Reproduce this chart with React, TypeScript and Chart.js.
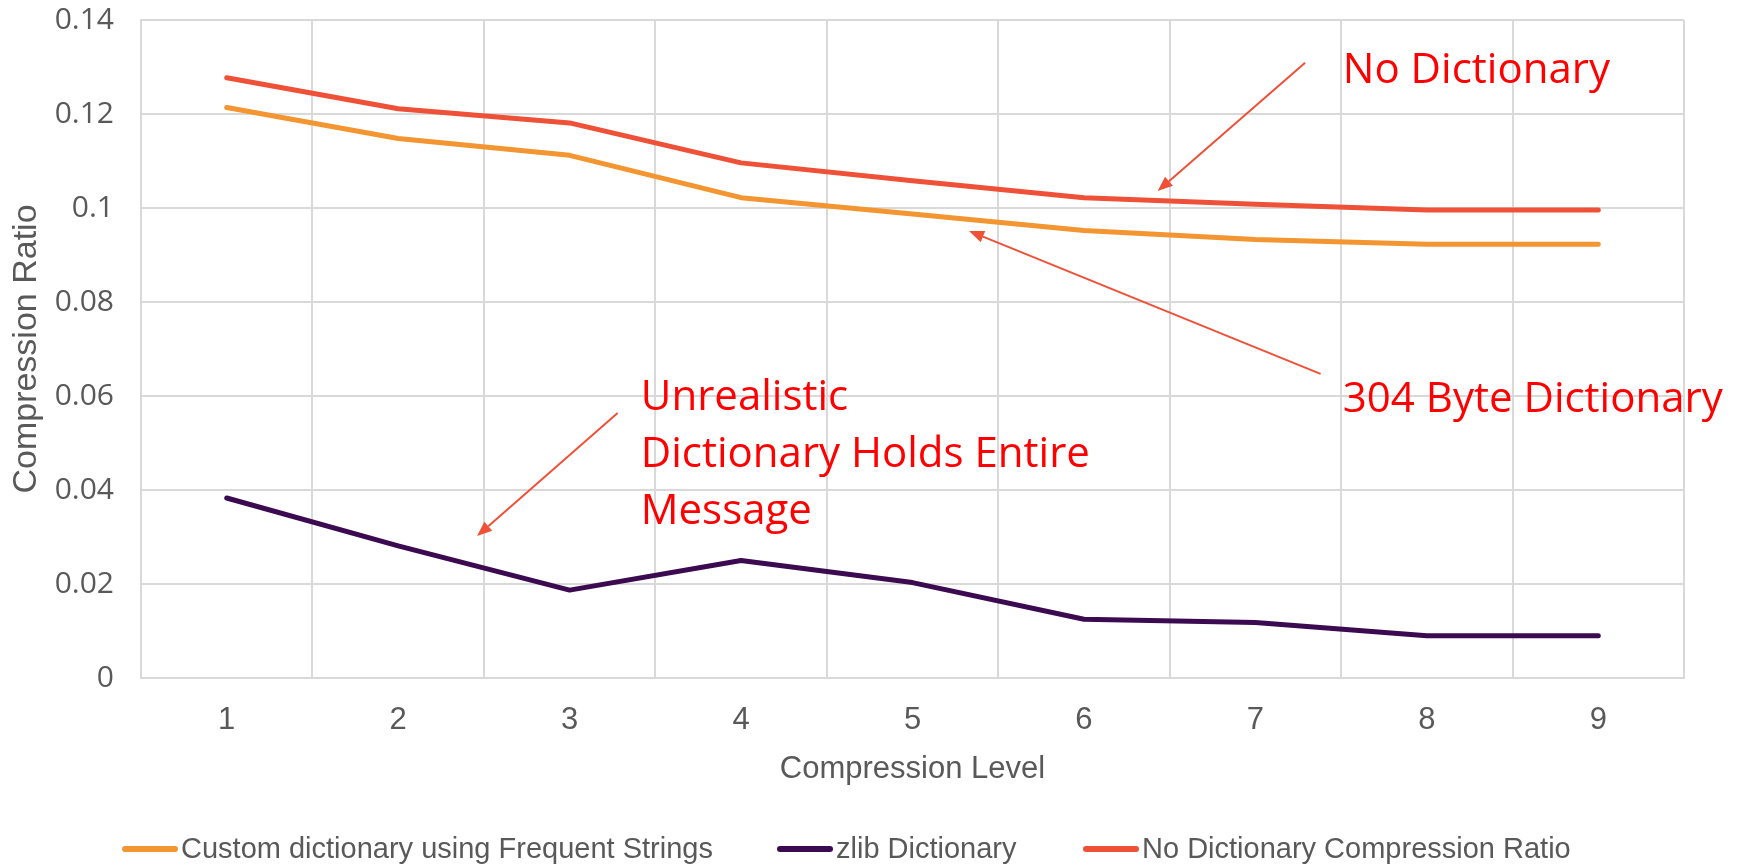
import React, { useEffect, useRef } from 'react';
import { Chart, registerables } from 'chart.js';

Chart.register(...registerables);

const levels = ['1', '2', '3', '4', '5', '6', '7', '8', '9'];
const customDict = [0.1214, 0.1148, 0.1112, 0.1022, 0.0987, 0.0952, 0.0933, 0.0923, 0.0923];
const zlibDict = [0.0383, 0.0281, 0.0187, 0.025, 0.0203, 0.0125, 0.0118, 0.009, 0.009];
const noDict = [0.1277, 0.1211, 0.1181, 0.1096, 0.1058, 0.1022, 0.1008, 0.0996, 0.0996];
const seriesNames = ['Custom dictionary using Frequent Strings', 'zlib Dictionary', 'No Dictionary Compression Ratio'];
const seriesColors = ['#F39530', '#3C0A50', '#EF5038'];
const yMin = 0;
const yMax = 0.14;
const yStep = 0.02;
const xTitle = 'Compression Level';
const yTitle = 'Compression Ratio';
const noteNoDict = ['No Dictionary'];
const note304 = ['304 Byte Dictionary'];
const noteUnreal = ['Unrealistic', 'Dictionary Holds Entire', 'Message'];

const SANS = '"Liberation Sans", Arial, sans-serif';
const GRAY = '#595959';

const annotPlugin = {
  id: 'annotPlugin',
  afterDraw(chart: any) {
    const { ctx, scales, chartArea } = chart;
    const xs = scales.x;
    const ys = scales.y;
    const X = (i: number) => xs.getPixelForValue(i);
    const Y = (v: number) => ys.getPixelForValue(v);
    ctx.save();
    const arrows = [
      [6.29, 0.1309, 5.43, 0.1036],
      [6.38, 0.0647, 4.33, 0.0951],
      [2.28, 0.0564, 1.46, 0.0302],
    ];
    ctx.strokeStyle = '#EF5038';
    ctx.fillStyle = '#EF5038';
    ctx.lineWidth = 2;
    for (const a of arrows) {
      const x1 = X(a[0]), y1 = Y(a[1]), x2 = X(a[2]), y2 = Y(a[3]);
      const ang = Math.atan2(y2 - y1, x2 - x1);
      const hl = 15, hw = 6;
      const bx = x2 - hl * Math.cos(ang), by = y2 - hl * Math.sin(ang);
      ctx.beginPath();
      ctx.moveTo(x1, y1);
      ctx.lineTo(bx, by);
      ctx.stroke();
      ctx.beginPath();
      ctx.moveTo(x2, y2);
      ctx.lineTo(bx + hw * Math.sin(ang), by - hw * Math.cos(ang));
      ctx.lineTo(bx - hw * Math.sin(ang), by + hw * Math.cos(ang));
      ctx.closePath();
      ctx.fill();
    }
    ctx.fillStyle = '#FF0000';
    ctx.font = '42px "Open Sans"';
    ctx.textAlign = 'left';
    ctx.textBaseline = 'alphabetic';
    ctx.fillText(noteNoDict[0], X(6.51), Y(0.1266));
    ctx.fillText(note304[0], X(6.51), Y(0.0566));
    const unrealY = [0.0570, 0.0449, 0.0328];
    noteUnreal.forEach((t, i) => ctx.fillText(t, X(2.415), Y(unrealY[i])));

    // x axis title
    ctx.fillStyle = GRAY;
    ctx.font = `31px ${SANS}`;
    ctx.textAlign = 'center';
    ctx.textBaseline = 'middle';
    ctx.fillText(xTitle, (chartArea.left + chartArea.right) / 2, 769);

    // legend
    const legX = [122, 777, 1083];
    const legY = 849;
    ctx.font = `29px ${SANS}`;
    ctx.textAlign = 'left';
    ctx.textBaseline = 'alphabetic';
    seriesNames.forEach((name, i) => {
      ctx.strokeStyle = seriesColors[i];
      ctx.lineWidth = 6;
      ctx.lineCap = 'round';
      ctx.beginPath();
      ctx.moveTo(legX[i] + 3, legY);
      ctx.lineTo(legX[i] + 53, legY);
      ctx.stroke();
      ctx.fillStyle = GRAY;
      ctx.fillText(name, legX[i] + 59, 858);
    });
    ctx.restore();
  },
};

export default function App() {
  const ref = useRef<HTMLCanvasElement>(null);
  useEffect(() => {
    document.body.style.margin = '0';
    const cv = ref.current!;
    const data = [customDict, zlibDict, noDict];
    const chart = new Chart(cv, {
      type: 'line',
      data: {
        labels: levels,
        datasets: data.map((d, i) => ({
          label: seriesNames[i],
          data: d,
          borderColor: seriesColors[i],
          backgroundColor: seriesColors[i],
          borderWidth: 5,
          pointRadius: 0,
          tension: 0,
          borderCapStyle: 'round',
          borderJoinStyle: 'round',
          fill: false,
        })),
      },
      options: {
        responsive: false,
        animation: false,
        layout: { padding: { left: 0, right: 57, top: 0, bottom: 67 } },
        plugins: { legend: { display: false }, tooltip: { enabled: false } },
        scales: {
          x: {
            offset: true,
            grid: { offset: true, color: '#D9D9D9', lineWidth: 2, drawTicks: false },
            border: { color: '#D9D9D9', width: 2 },
            ticks: { color: GRAY, font: { family: SANS, size: 31 }, padding: 24 },
            title: { display: false, text: xTitle },
            afterFit: (s: any) => { s.height = 120; },
          },
          y: {
            min: yMin,
            max: yMax,
            grid: { color: '#D9D9D9', lineWidth: 2, drawTicks: false },
            border: { color: '#D9D9D9', width: 2 },
            ticks: {
              stepSize: yStep,
              color: GRAY,
              font: { family: '"Open Sans"', size: 30 },
              padding: 27,
              callback: (v: any) => String(+Number(v).toFixed(2)),
            },
            title: {
              display: true,
              text: yTitle,
              color: GRAY,
              font: { family: SANS, size: 34 },
              padding: { top: 6, bottom: 0 },
            },
            afterFit: (s: any) => { s.width = 141; s.paddingTop = 20; s.paddingBottom = 0; },
          },
        },
      },
      plugins: [annotPlugin],
    } as any);
    return () => chart.destroy();
  }, []);
  return (
    <div style={{ width: 1741, height: 865 }}>
      <canvas ref={ref} width={1741} height={865} style={{ display: 'block' }} />
    </div>
  );
}
